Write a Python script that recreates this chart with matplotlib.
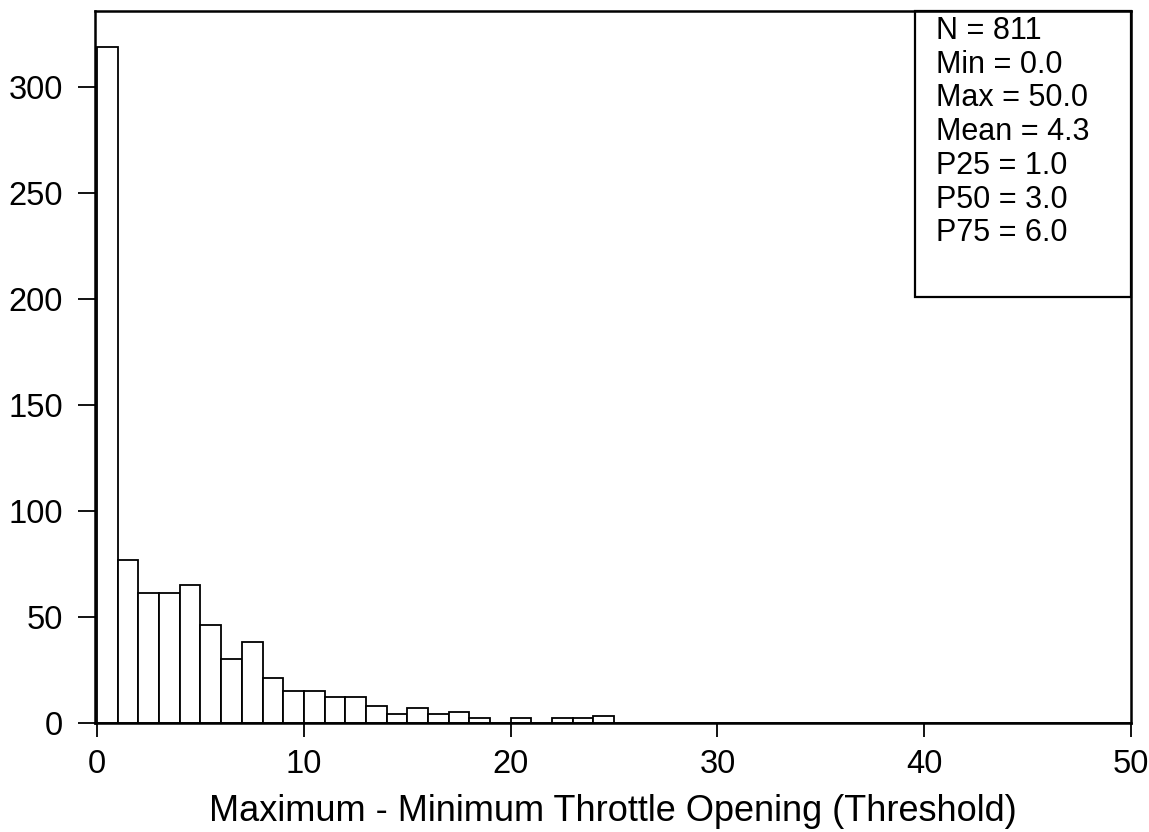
import numpy as np
import matplotlib
matplotlib.use("Agg")
import matplotlib.pyplot as plt
from matplotlib.patches import Rectangle

plt.rcParams['font.family'] = ['Liberation Sans', 'DejaVu Sans']

# histogram counts, bins of width 1 starting at 0
bin_left = np.arange(0, 50)
counts = [319, 77, 61, 61, 65, 46, 30, 38, 21, 15,
          15, 12, 12, 8, 4, 7, 4, 5, 2, 0,
          2, 0, 2, 2, 3, 0, 0, 0, 0, 0,
          0, 0, 0, 0, 0, 0, 0, 0, 0, 0,
          0, 0, 0, 0, 0, 0, 0, 0, 0, 0]

stats_lines = ["N = 811", "Min = 0.0", "Max = 50.0", "Mean = 4.3",
               "P25 = 1.0", "P50 = 3.0", "P75 = 6.0"]
x_ticks = [0, 10, 20, 30, 40, 50]
y_ticks = [0, 50, 100, 150, 200, 250, 300]
x_label = "Maximum - Minimum Throttle Opening (Threshold)"

fig = plt.figure(figsize=(11.49, 8.32), dpi=100)
ax = fig.add_axes([0.0827, 0.1314, 0.9016, 0.8557])

ax.bar(bin_left, counts, width=1, align='edge', color='white',
       edgecolor='black', linewidth=1.3)

ax.set_xlim(-0.1, 50)
ax.set_ylim(0, 336)
ax.set_xticks(x_ticks)
ax.set_yticks(y_ticks)
ax.tick_params(axis='y', direction='out', length=12, width=1.3, pad=11,
               labelsize=23.5, colors='black')
ax.tick_params(axis='x', direction='out', length=10, width=1.3, pad=9,
               labelsize=23.5, colors='black')
for s in ax.spines.values():
    s.set_linewidth(1.8)
    s.set_color('black')

ax.set_xlabel(x_label, fontsize=26, labelpad=10)

# stats box in the upper right corner
ax.add_patch(Rectangle((0.7915, 0.598), 0.2085, 0.402, transform=ax.transAxes,
                       fill=False, edgecolor='black', linewidth=1.6, clip_on=False))
for i, line in enumerate(stats_lines):
    ax.text(0.8118, 0.9715 - i * 0.04733, line, transform=ax.transAxes,
            fontsize=22, va='center', ha='left')

fig.savefig("out.png", dpi=100)
